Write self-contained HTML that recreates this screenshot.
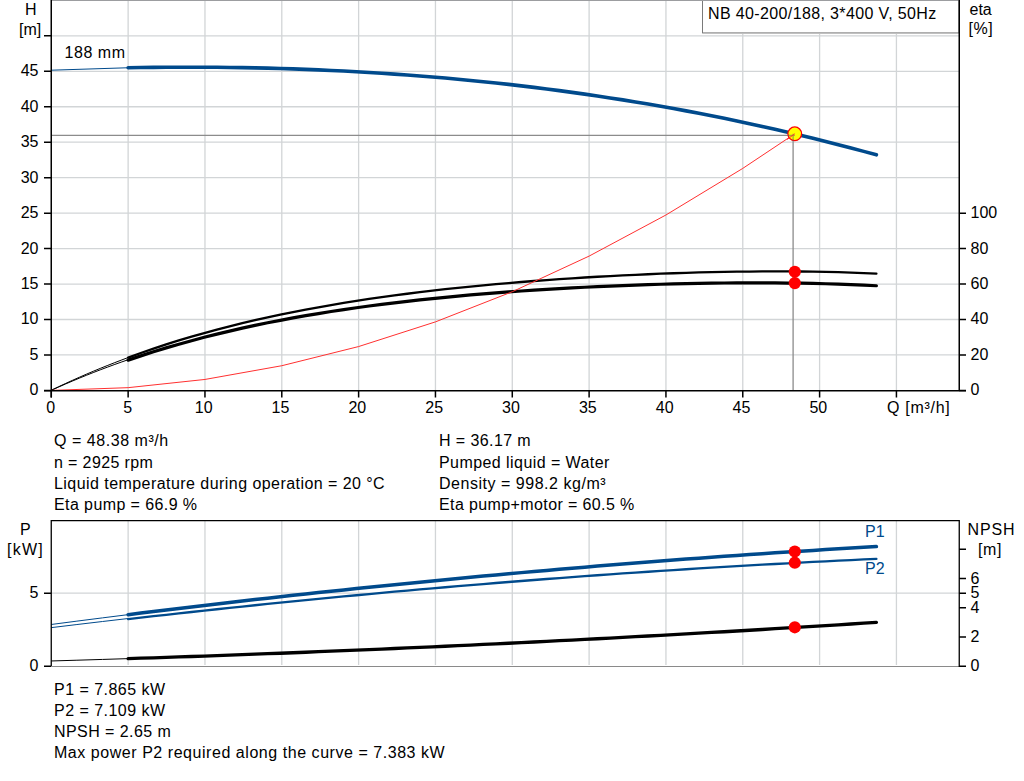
<!DOCTYPE html><html><head><meta charset="utf-8"><style>html,body{margin:0;padding:0;background:#fff;width:1024px;height:781px;overflow:hidden}svg{display:block}</style></head><body><svg width="1024" height="781" viewBox="0 0 1024 781">
<rect width="1024" height="781" fill="#fff"/>
<path d="M128.13,0 V390 M204.96,0 V390 M281.79,0 V390 M358.62,0 V390 M435.45,0 V390 M512.28,0 V390 M589.11,0 V390 M665.94,0 V390 M742.77,0 V390 M819.60,0 V390 M896.43,0 V390 M51,354.95 H959 M51,319.49 H959 M51,284.04 H959 M51,248.58 H959 M51,213.13 H959 M51,177.67 H959 M51,142.22 H959 M51,106.76 H959 M51,71.31 H959 M51,35.85 H959" stroke="#d2d5d7" stroke-width="1.3" fill="none"/>
<path d="M51,0.5 H959" stroke="#9c9da0" stroke-width="1"/>
<path d="M51,135.4 H794.8 M793.1,133.8 V390" stroke="#8c8c8c" stroke-width="1.3" fill="none"/>
<path d="M51.30,70.2 L128.13,67.76" stroke="#004a8c" stroke-width="1" fill="none"/>
<path d="M128.13,67.76 L140.81,67.55 L153.50,67.39 L166.18,67.28 L178.86,67.21 L191.54,67.20 L204.23,67.23 L216.91,67.32 L229.59,67.45 L242.27,67.64 L254.96,67.88 L267.64,68.17 L280.32,68.51 L293.00,68.91 L305.69,69.36 L318.37,69.87 L331.05,70.43 L343.73,71.05 L356.42,71.72 L369.10,72.45 L381.78,73.24 L394.46,74.09 L407.15,74.99 L419.83,75.96 L432.51,76.98 L445.19,78.07 L457.88,79.21 L470.56,80.42 L483.24,81.69 L495.92,83.02 L508.61,84.41 L521.29,85.87 L533.97,87.39 L546.65,88.98 L559.34,90.63 L572.02,92.35 L584.70,94.14 L597.38,95.99 L610.07,97.91 L622.75,99.90 L635.43,101.95 L648.11,104.08 L660.80,106.28 L673.48,108.54 L686.16,110.88 L698.84,113.29 L711.53,115.77 L724.21,118.32 L736.89,120.95 L749.57,123.65 L762.26,126.43 L774.94,129.28 L787.62,132.21 L800.30,135.21 L812.99,138.29 L825.67,141.44 L838.35,144.68 L851.03,147.99 L863.72,151.38 L876.40,154.85" stroke="#004a8c" stroke-width="3.6" fill="none" stroke-linecap="round"/>
<path d="M51.30,390.25 L58.28,386.89 L65.27,383.62 L72.25,380.43 L79.24,377.32 L86.22,374.28 L93.21,371.31 L100.19,368.42 L107.18,365.61 L114.16,362.86 L121.15,360.18 L128.13,357.56" stroke="#000" stroke-width="1" fill="none"/>
<path d="M51.30,390.31 L58.28,387.16 L65.27,384.10 L72.25,381.11 L79.24,378.19 L86.22,375.35 L93.21,372.58 L100.19,369.87 L107.18,367.24 L114.16,364.67 L121.15,362.17 L128.13,359.73" stroke="#000" stroke-width="1" fill="none"/>
<path d="M128.13,357.56 L140.81,352.99 L153.50,348.62 L166.18,344.45 L178.86,340.47 L191.54,336.68 L204.23,333.06 L216.91,329.61 L229.59,326.32 L242.27,323.19 L254.96,320.21 L267.64,317.36 L280.32,314.65 L293.00,312.07 L305.69,309.61 L318.37,307.27 L331.05,305.05 L343.73,302.92 L356.42,300.90 L369.10,298.98 L381.78,297.15 L394.46,295.40 L407.15,293.74 L419.83,292.16 L432.51,290.66 L445.19,289.23 L457.88,287.86 L470.56,286.57 L483.24,285.33 L495.92,284.16 L508.61,283.05 L521.29,281.99 L533.97,280.99 L546.65,280.04 L559.34,279.15 L572.02,278.30 L584.70,277.50 L597.38,276.75 L610.07,276.05 L622.75,275.40 L635.43,274.79 L648.11,274.23 L660.80,273.72 L673.48,273.25 L686.16,272.84 L698.84,272.47 L711.53,272.15 L724.21,271.89 L736.89,271.68 L749.57,271.53 L762.26,271.44 L774.94,271.40 L787.62,271.43 L800.30,271.52 L812.99,271.68 L825.67,271.92 L838.35,272.22 L851.03,272.61 L863.72,273.08 L876.40,273.63" stroke="#000" stroke-width="2.3" fill="none" stroke-linecap="round"/>
<path d="M128.13,359.73 L140.81,355.46 L153.50,351.38 L166.18,347.50 L178.86,343.80 L191.54,340.27 L204.23,336.91 L216.91,333.72 L229.59,330.67 L242.27,327.78 L254.96,325.02 L267.64,322.40 L280.32,319.91 L293.00,317.54 L305.69,315.29 L318.37,313.15 L331.05,311.12 L343.73,309.19 L356.42,307.36 L369.10,305.62 L381.78,303.97 L394.46,302.40 L407.15,300.92 L419.83,299.51 L432.51,298.17 L445.19,296.90 L457.88,295.70 L470.56,294.56 L483.24,293.49 L495.92,292.47 L508.61,291.51 L521.29,290.61 L533.97,289.75 L546.65,288.95 L559.34,288.20 L572.02,287.49 L584.70,286.83 L597.38,286.22 L610.07,285.65 L622.75,285.13 L635.43,284.65 L648.11,284.22 L660.80,283.84 L673.48,283.50 L686.16,283.20 L698.84,282.95 L711.53,282.75 L724.21,282.60 L736.89,282.50 L749.57,282.45 L762.26,282.46 L774.94,282.52 L787.62,282.64 L800.30,282.82 L812.99,283.06 L825.67,283.37 L838.35,283.75 L851.03,284.20 L863.72,284.73 L876.40,285.34" transform="translate(0,0.4)" stroke="#000" stroke-width="3.2" fill="none" stroke-linecap="round"/>
<path d="M51.30,390.40 L128.13,387.66 L204.96,379.44 L281.79,365.73 L358.62,346.55 L435.45,321.88 L512.28,291.73 L589.11,256.10 L665.94,214.99 L742.77,168.40 L794.71,133.80" stroke="#ff3030" stroke-width="1" fill="none"/>
<circle cx="794.8" cy="271.8" r="6.1" fill="#ff0000"/>
<circle cx="794.8" cy="283.1" r="6.1" fill="#ff0000"/>
<circle cx="794.75" cy="133.8" r="6.85" fill="#ffff00" stroke="#ff0000" stroke-width="1.25"/>
<path d="M788,135.4 H794.8 M793.1,133.8 V141" stroke="#606060" stroke-opacity="0.55" stroke-width="1.3" fill="none"/>
<path d="M787,139.5 L794.75,133.8" stroke="#ff3030" stroke-width="1" fill="none"/>
<rect x="702.5" y="-1" width="256.5" height="33.9" fill="#fff" stroke="#7a7a7a" stroke-width="1"/>
<path d="M703,33.5 H959" stroke="#c0c0c0" stroke-width="1"/>
<path d="M702,0.5 H959" stroke="#9c9da0" stroke-width="1"/>
<path d="M51.25,0 V397.5 M959.25,0 V390.75 M44,390.75 H966" stroke="#000" stroke-width="1.5" fill="none"/>
<path d="M44,390.40 H51 M44,354.95 H51 M44,319.49 H51 M44,284.04 H51 M44,248.58 H51 M44,213.13 H51 M44,177.67 H51 M44,142.22 H51 M44,106.76 H51 M44,71.31 H51 M44,35.85 H51 M51.30,390 V397.5 M128.13,390 V397.5 M204.96,390 V397.5 M281.79,390 V397.5 M358.62,390 V397.5 M435.45,390 V397.5 M512.28,390 V397.5 M589.11,390 V397.5 M665.94,390 V397.5 M742.77,390 V397.5 M819.60,390 V397.5 M896.43,390 V397.5 M959,390.40 H966 M959,354.95 H966 M959,319.49 H966 M959,284.04 H966 M959,248.58 H966 M959,213.13 H966" stroke="#000" stroke-width="1.5" fill="none"/>
<g font-family="Liberation Sans, sans-serif" font-size="16" fill="#000">
<text x="30.8" y="14.8" text-anchor="middle">H</text>
<text x="30.1" y="34.6" text-anchor="middle">[m]</text>
<text x="38.5" y="395.40" text-anchor="end">0</text>
<text x="38.5" y="359.95" text-anchor="end">5</text>
<text x="38.5" y="324.49" text-anchor="end">10</text>
<text x="38.5" y="289.04" text-anchor="end">15</text>
<text x="38.5" y="253.58" text-anchor="end">20</text>
<text x="38.5" y="218.13" text-anchor="end">25</text>
<text x="38.5" y="182.67" text-anchor="end">30</text>
<text x="38.5" y="147.22" text-anchor="end">35</text>
<text x="38.5" y="111.76" text-anchor="end">40</text>
<text x="38.5" y="76.31" text-anchor="end">45</text>
<text x="50.80" y="412.5" text-anchor="middle">0</text>
<text x="127.63" y="412.5" text-anchor="middle">5</text>
<text x="203.66" y="412.5" text-anchor="middle">10</text>
<text x="280.49" y="412.5" text-anchor="middle">15</text>
<text x="357.32" y="412.5" text-anchor="middle">20</text>
<text x="434.15" y="412.5" text-anchor="middle">25</text>
<text x="510.98" y="412.5" text-anchor="middle">30</text>
<text x="587.81" y="412.5" text-anchor="middle">35</text>
<text x="664.64" y="412.5" text-anchor="middle">40</text>
<text x="741.47" y="412.5" text-anchor="middle">45</text>
<text x="818.30" y="412.5" text-anchor="middle">50</text>
<text x="887" y="412.5" letter-spacing="0.714">Q [m³/h]</text>
<text x="64.5" y="57.9" letter-spacing="0.54">188 mm</text>
<text x="708" y="18.75" letter-spacing="0.37">NB 40-200/188, 3*400 V, 50Hz</text>
<text x="969.5" y="14.8">eta</text>
<text x="968.5" y="34.4" letter-spacing="0.5">[%]</text>
<text x="970.5" y="395.40">0</text>
<text x="970.5" y="359.95">20</text>
<text x="970.5" y="324.49">40</text>
<text x="970.5" y="289.04">60</text>
<text x="970.5" y="253.58">80</text>
<text x="970.5" y="218.13">100</text>
<text x="54" y="446.30" letter-spacing="0.546">Q = 48.38 m³/h</text>
<text x="439" y="446.30" letter-spacing="0.41">H = 36.17 m</text>
<text x="54" y="467.53" letter-spacing="0.373">n = 2925 rpm</text>
<text x="439" y="467.53" letter-spacing="0.435">Pumped liquid = Water</text>
<text x="54" y="488.76" letter-spacing="0.446">Liquid temperature during operation = 20 °C</text>
<text x="439" y="488.76" letter-spacing="0.525">Density = 998.2 kg/m³</text>
<text x="54" y="509.99" letter-spacing="0.406">Eta pump = 66.9 %</text>
<text x="439" y="509.99" letter-spacing="0.386">Eta pump+motor = 60.5 %</text>
<text x="54" y="694.80" letter-spacing="0.475">P1 = 7.865 kW</text>
<text x="54" y="716.00" letter-spacing="0.475">P2 = 7.109 kW</text>
<text x="54" y="737.20" letter-spacing="0.442">NPSH = 2.65 m</text>
<text x="54" y="758.40" letter-spacing="0.545">Max power P2 required along the curve = 7.383 kW</text>
</g>
<path d="M128.13,521 V665 M204.96,521 V665 M281.79,521 V665 M358.62,521 V665 M435.45,521 V665 M512.28,521 V665 M589.11,521 V665 M665.94,521 V665 M742.77,521 V665 M819.60,521 V665 M896.43,521 V665 M51,593.15 H959" stroke="#d2d5d7" stroke-width="1.3" fill="none"/>
<path d="M51.30,624.47 L76.91,621.14 L102.52,617.86 L128.13,614.65" stroke="#004a8c" stroke-width="1" fill="none"/>
<path d="M51.30,627.64 L76.91,624.54 L102.52,621.50 L128.13,618.52" stroke="#004a8c" stroke-width="1" fill="none"/>
<path d="M51.30,660.97 L76.91,660.21 L102.52,659.43 L128.13,658.63" stroke="#000" stroke-width="1" fill="none"/>
<path d="M128.13,614.65 L140.81,613.07 L153.50,611.52 L166.18,609.98 L178.86,608.45 L191.54,606.93 L204.23,605.44 L216.91,603.95 L229.59,602.48 L242.27,601.02 L254.96,599.58 L267.64,598.16 L280.32,596.74 L293.00,595.34 L305.69,593.96 L318.37,592.59 L331.05,591.23 L343.73,589.89 L356.42,588.57 L369.10,587.25 L381.78,585.96 L394.46,584.67 L407.15,583.40 L419.83,582.15 L432.51,580.91 L445.19,579.68 L457.88,578.47 L470.56,577.27 L483.24,576.09 L495.92,574.92 L508.61,573.77 L521.29,572.63 L533.97,571.50 L546.65,570.39 L559.34,569.29 L572.02,568.21 L584.70,567.14 L597.38,566.09 L610.07,565.05 L622.75,564.03 L635.43,563.02 L648.11,562.02 L660.80,561.04 L673.48,560.07 L686.16,559.12 L698.84,558.18 L711.53,557.26 L724.21,556.35 L736.89,555.45 L749.57,554.57 L762.26,553.70 L774.94,552.85 L787.62,552.01 L800.30,551.19 L812.99,550.38 L825.67,549.58 L838.35,548.80 L851.03,548.04 L863.72,547.29 L876.40,546.55" stroke="#004a8c" stroke-width="3.5" fill="none" stroke-linecap="round"/>
<path d="M128.13,618.52 L140.81,617.06 L153.50,615.63 L166.18,614.20 L178.86,612.79 L191.54,611.40 L204.23,610.02 L216.91,608.66 L229.59,607.31 L242.27,605.97 L254.96,604.65 L267.64,603.35 L280.32,602.06 L293.00,600.79 L305.69,599.53 L318.37,598.28 L331.05,597.05 L343.73,595.84 L356.42,594.64 L369.10,593.45 L381.78,592.28 L394.46,591.12 L407.15,589.98 L419.83,588.86 L432.51,587.75 L445.19,586.65 L457.88,585.57 L470.56,584.50 L483.24,583.45 L495.92,582.42 L508.61,581.39 L521.29,580.39 L533.97,579.40 L546.65,578.42 L559.34,577.46 L572.02,576.51 L584.70,575.58 L597.38,574.66 L610.07,573.76 L622.75,572.87 L635.43,572.00 L648.11,571.14 L660.80,570.30 L673.48,569.47 L686.16,568.65 L698.84,567.86 L711.53,567.07 L724.21,566.30 L736.89,565.55 L749.57,564.81 L762.26,564.09 L774.94,563.38 L787.62,562.69 L800.30,562.01 L812.99,561.34 L825.67,560.69 L838.35,560.06 L851.03,559.44 L863.72,558.83 L876.40,558.24" transform="translate(0,0.6)" stroke="#004a8c" stroke-width="2.3" fill="none" stroke-linecap="round"/>
<path d="M128.13,658.63 L140.81,658.21 L153.50,657.80 L166.18,657.37 L178.86,656.94 L191.54,656.50 L204.23,656.05 L216.91,655.60 L229.59,655.14 L242.27,654.67 L254.96,654.20 L267.64,653.72 L280.32,653.23 L293.00,652.73 L305.69,652.23 L318.37,651.72 L331.05,651.21 L343.73,650.68 L356.42,650.15 L369.10,649.61 L381.78,649.07 L394.46,648.52 L407.15,647.96 L419.83,647.40 L432.51,646.82 L445.19,646.24 L457.88,645.66 L470.56,645.06 L483.24,644.46 L495.92,643.86 L508.61,643.24 L521.29,642.62 L533.97,641.99 L546.65,641.36 L559.34,640.71 L572.02,640.07 L584.70,639.41 L597.38,638.75 L610.07,638.08 L622.75,637.40 L635.43,636.71 L648.11,636.02 L660.80,635.32 L673.48,634.62 L686.16,633.91 L698.84,633.19 L711.53,632.46 L724.21,631.73 L736.89,630.99 L749.57,630.24 L762.26,629.48 L774.94,628.72 L787.62,627.95 L800.30,627.18 L812.99,626.40 L825.67,625.61 L838.35,624.81 L851.03,624.01 L863.72,623.20 L876.40,622.38" stroke="#000" stroke-width="3.3" fill="none" stroke-linecap="round"/>
<circle cx="794.8" cy="551.5" r="6.1" fill="#ff0000"/>
<circle cx="794.8" cy="562.7" r="6.1" fill="#ff0000"/>
<circle cx="794.8" cy="627.3" r="6.1" fill="#ff0000"/>
<path d="M51,666.5 H959" stroke="#8a8a8a" stroke-width="1" fill="none"/>
<path d="M51.25,520 V666 M959.25,520 V667 M51,520.6 H959.5" stroke="#000" stroke-width="1.3" fill="none"/>
<path d="M44,666.25 H51 M44,593.15 H51 M959,666.25 H966 M959,637.01 H966 M959,607.77 H966 M959,593.15 H966 M959,578.53 H966 M959,549.29 H966" stroke="#000" stroke-width="1.5" fill="none"/>
<g font-family="Liberation Sans, sans-serif" font-size="16" fill="#000">
<text x="25.4" y="534.7" text-anchor="middle">P</text>
<text x="7" y="554.7" letter-spacing="1.27">[kW]</text>
<text x="38.5" y="598.15" text-anchor="end">5</text>
<text x="38.5" y="671.25" text-anchor="end">0</text>
<text x="967.5" y="534.6" letter-spacing="0.9">NPSH</text>
<text x="978" y="554.5" letter-spacing="0.6">[m]</text>
<text x="970.5" y="671.25">0</text>
<text x="970.5" y="642.01">2</text>
<text x="970.5" y="612.77">4</text>
<text x="970.5" y="598.15">5</text>
<text x="970.5" y="583.53">6</text>
<text x="865" y="536.6" fill="#004a8c">P1</text>
<text x="865" y="573.8" fill="#004a8c">P2</text>
</g>
</svg></body></html>
